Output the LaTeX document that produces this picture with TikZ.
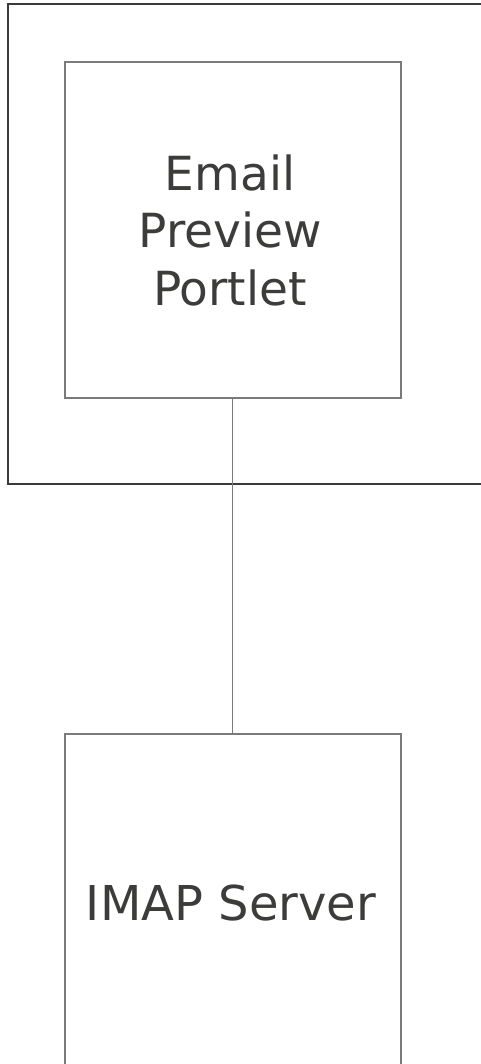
\documentclass[tikz,border=0pt]{standalone}
\usepackage{fontspec}
\setmainfont{DejaVu Sans}
\definecolor{txt}{HTML}{3C3C3A}
\definecolor{outer}{HTML}{3A3A3A}
\definecolor{boxc}{HTML}{7A7A7A}
\begin{document}
\begin{tikzpicture}[x=1pt,y=-1pt,
  boxstyle/.style={draw=boxc,line width=1.6pt},
  outerstyle/.style={draw=outer,line width=1.3pt},
  lbl/.style={text=txt,font=\fontsize{47}{57.5}\selectfont,align=center,inner sep=0pt},
  link/.style={draw=boxc,line width=1pt}]
\useasboundingbox (0,0) rectangle (481,1064);
\clip (0,0) rectangle (481,1064);
\draw[outerstyle] (8,4) rectangle (500,484);
\node[boxstyle,minimum width=336pt,minimum height=336pt,inner sep=0pt,anchor=north west] (portlet) at (64,61) {};
\node[lbl] (ptext) at (230,230) {Email\\Preview\\ Portlet};
\node[boxstyle,minimum width=336pt,minimum height=340pt,inner sep=0pt,anchor=north west] (imap) at (64,733) {};
\node[lbl,font=\fontsize{48}{58}\selectfont,anchor=base] (itext) at (231,920) {IMAP Server};
\draw[link] (portlet.south) -- (imap.north);
\end{tikzpicture}
\end{document}
